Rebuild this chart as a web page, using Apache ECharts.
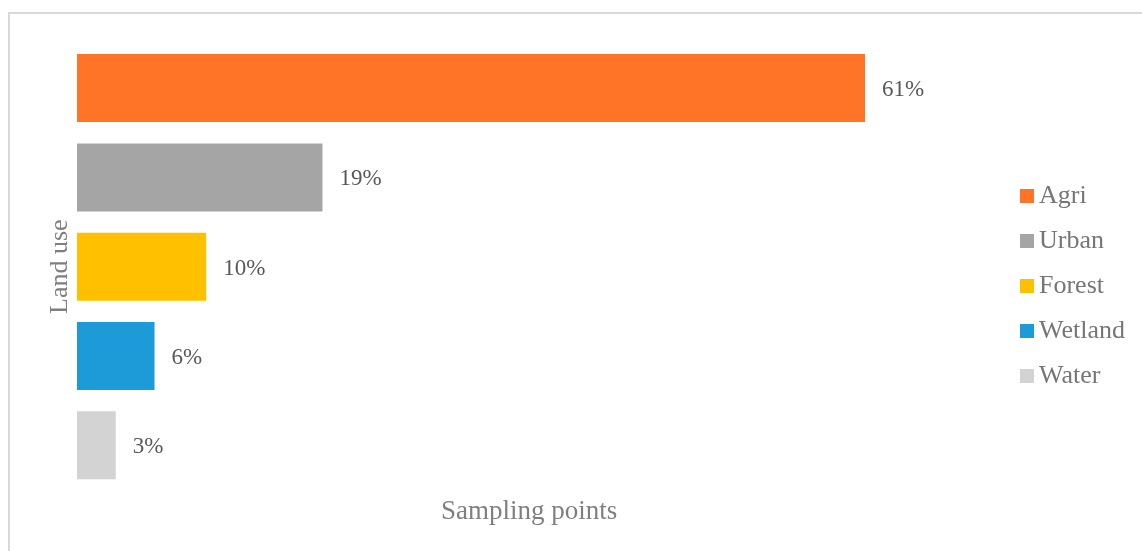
<!DOCTYPE html>
<html>
<head>
<meta charset="utf-8">
<style>
  html, body { margin: 0; padding: 0; background: #ffffff; }
  #chart { width: 1142px; height: 551px; }
</style>
<script src="https://cdn.jsdelivr.net/npm/echarts@6/dist/echarts.min.js"></script>
</head>
<body>
<div id="chart"></div>
<script>
// Land use share of sampling points (%)
const categories = ['Agri', 'Urban', 'Forest', 'Wetland', 'Water'];
const shares = [61, 19, 10, 6, 3];

const palette = ['#FF7426', '#A5A5A5', '#FFC000', '#1C9BD8', '#D3D3D3'];
const serif = '"Liberation Serif", "Times New Roman", serif';

// One series per land use so each gets its own legend entry;
// stacking keeps every bar centred in its own category band.
const series = categories.map((name, i) => ({
  name: name,
  type: 'bar',
  stack: 'landuse',
  barWidth: 68,
  itemStyle: { color: palette[i] },
  label: {
    show: true,
    position: 'right',
    distance: 17,
    offset: [0, 2],
    formatter: '{c}%',
    color: '#595959',
    fontFamily: serif,
    fontSize: 23
  },
  data: categories.map((_, j) => (j === i ? shares[i] : null))
}));

const chart = echarts.init(document.getElementById('chart'), null, { renderer: 'canvas' });
chart.setOption({
  animation: false,
  backgroundColor: '#ffffff',
  graphic: [{
    type: 'rect',
    shape: { x: 9, y: 13, width: 1145, height: 560 },
    style: { fill: 'none', stroke: '#D9D9D9', lineWidth: 2 },
    silent: true
  }],
  grid: { left: 77, top: 43.4, width: 904.3, height: 446.6 },
  legend: {
    orient: 'vertical',
    left: 1015,
    top: 178,
    icon: 'rect',
    itemWidth: 14,
    itemHeight: 14,
    itemGap: 19,
    data: categories,
    textStyle: { color: '#767676', fontFamily: serif, fontSize: 26, lineHeight: 26 }
  },
  xAxis: {
    type: 'value',
    min: 0,
    max: 70,
    axisLine: { show: false },
    axisTick: { show: false },
    axisLabel: { show: false },
    splitLine: { show: false },
    name: 'Sampling points',
    nameLocation: 'middle',
    nameGap: 8,
    nameTextStyle: { color: '#7F7F7F', fontFamily: serif, fontSize: 27, verticalAlign: 'top' }
  },
  yAxis: {
    type: 'category',
    data: categories,
    inverse: true,
    axisLine: { show: false },
    axisTick: { show: false },
    axisLabel: { show: false },
    splitLine: { show: false },
    name: 'Land use',
    nameLocation: 'middle',
    nameRotate: 90,
    nameGap: 4,
    nameTextStyle: { color: '#7F7F7F', fontFamily: serif, fontSize: 26 }
  },
  series: series
});
</script>
</body>
</html>
